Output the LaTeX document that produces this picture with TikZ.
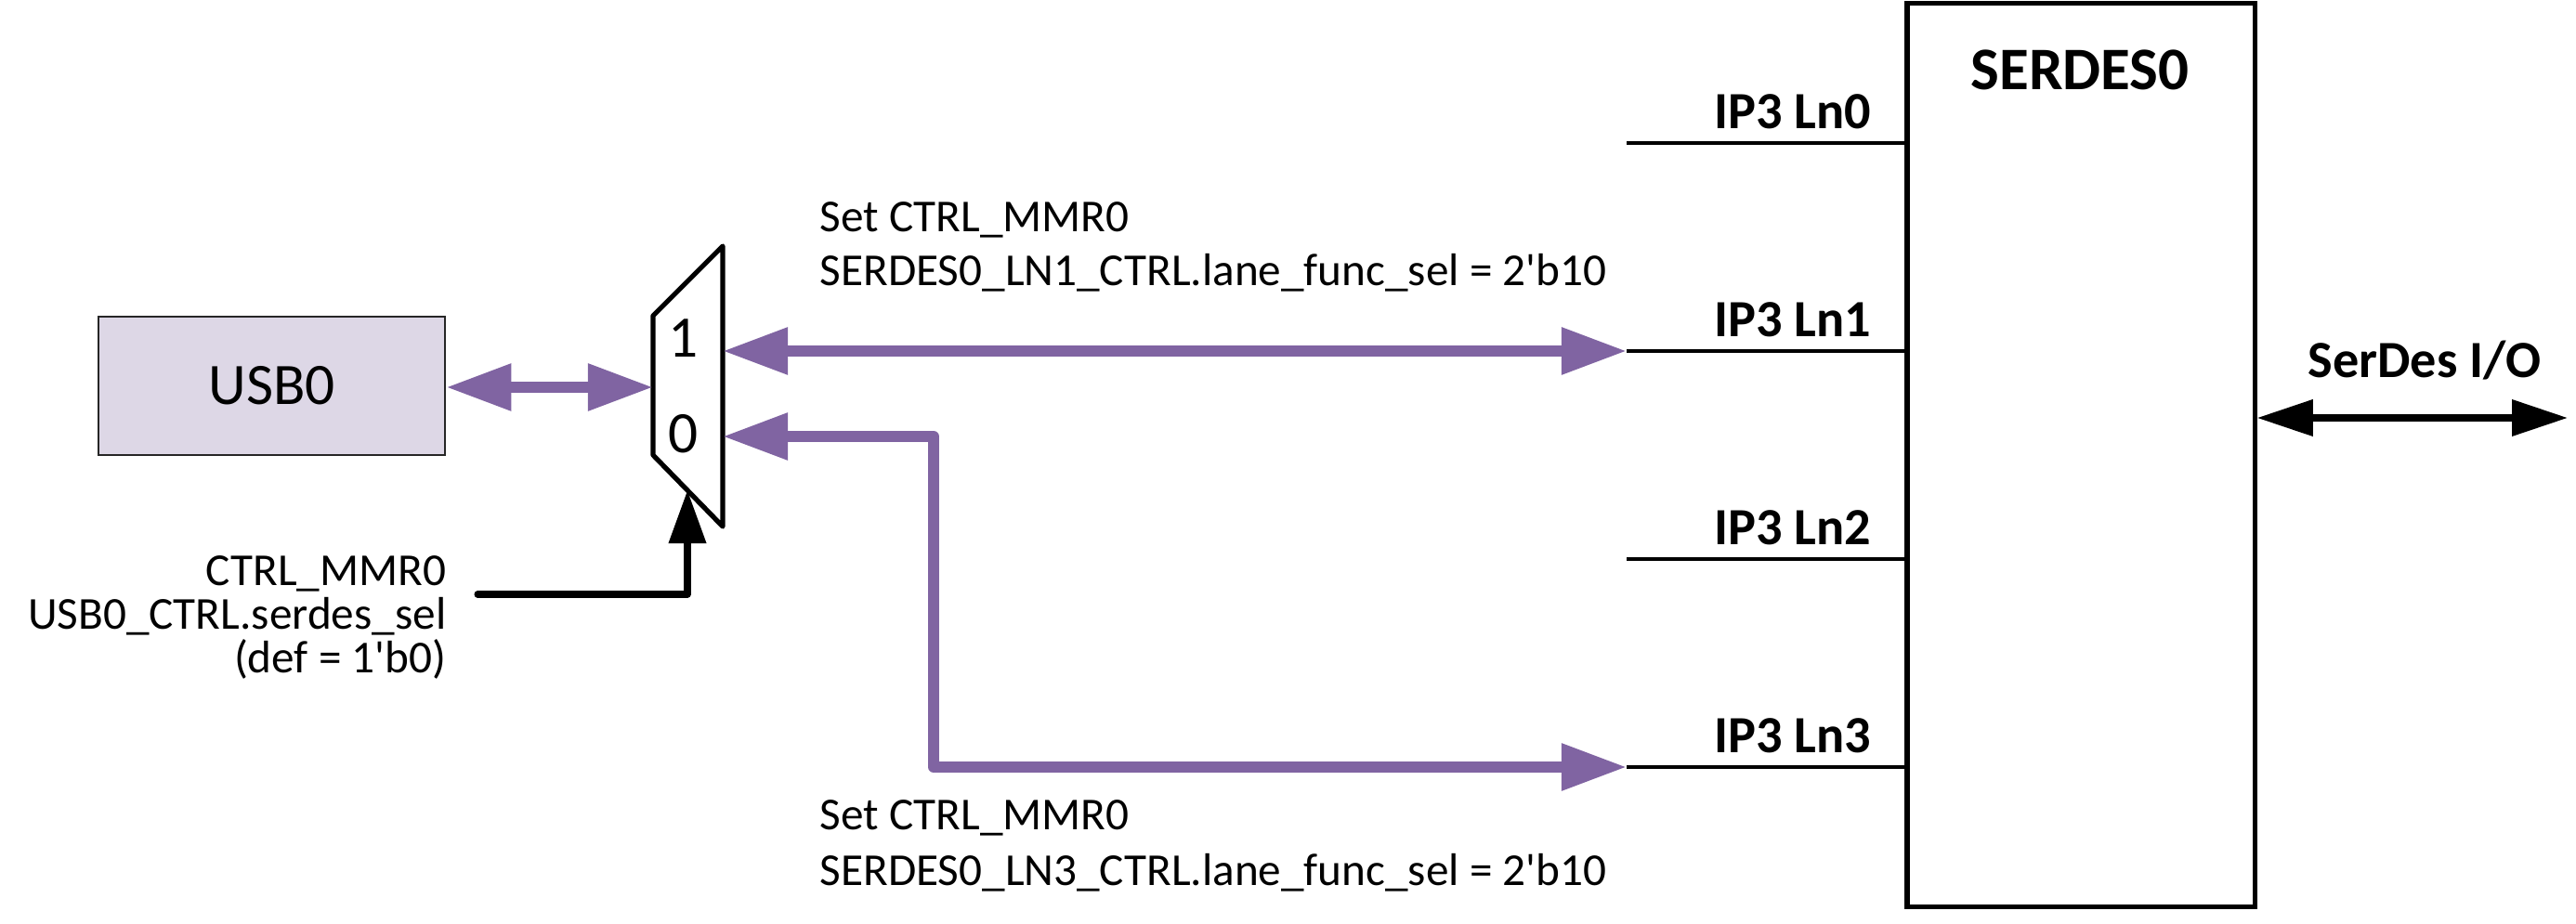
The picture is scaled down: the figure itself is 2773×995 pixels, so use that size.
\documentclass[tikz,border=0pt]{standalone}
\usepackage{fontspec}
\setmainfont{Carlito}
\usetikzlibrary{arrows.meta}
\definecolor{mpurple}{HTML}{8064A2}
\definecolor{usbfill}{HTML}{DDD7E6}
\tikzset{
  purplelink/.style={draw=mpurple, line width=3.4pt, line join=round,
    {Triangle[length=0.7cm,width=0.48cm]}-{Triangle[length=0.7cm,width=0.48cm]}},
  lanewire/.style={draw=black, line width=1.4pt},
  lanelabel/.style={anchor=base east, inner sep=0pt, font=\fontsize{16}{19}\selectfont\bfseries},
  txt/.style={inner sep=0pt, font=\fontsize{14}{16.5}\selectfont},
}
\begin{document}
\begin{tikzpicture}[x=0.01cm, y=-0.01cm]
\useasboundingbox (0,0) rectangle (2773,995);

% USB0 block
\node[draw=black!85, line width=0.7pt, fill=usbfill, minimum width=3.73cm,
      minimum height=1.49cm, inner sep=0pt, font=\fontsize{18}{21}\selectfont]
      (usb) at (292.5,415.5) {USB0};

% Multiplexer
\coordinate (mtl) at (703,340);
\coordinate (mtr) at (778,265);
\coordinate (mbr) at (778,567);
\coordinate (mbl) at (703,490);
\draw[line width=1.5pt, line join=round] (mtl) -- (mtr) -- (mbr) -- (mbl) -- cycle;
\node[inner sep=0pt, anchor=base, font=\fontsize{18}{21}\selectfont] (one) at (736,385) {1};
\node[inner sep=0pt, anchor=base, font=\fontsize{18}{21}\selectfont] (zero) at (736,488) {0};
\coordinate (min) at (703,417);
\coordinate (mux1) at (778,378);
\coordinate (mux0) at (778,470);
\coordinate (msel) at (740,528);

% SERDES0 block
\node[draw=black, line width=1.5pt, minimum width=3.74cm, minimum height=9.72cm,
      inner sep=0pt] (serdes) at (2240,490) {};
\node[inner sep=0pt, anchor=base, font=\fontsize{18.5}{22}\selectfont\bfseries]
      (sdname) at (2239,97) {SERDES0};

% Lanes
\coordinate (ln0) at (1751,154);
\coordinate (ln1) at (1751,378);
\coordinate (ln2) at (1751,602);
\coordinate (ln3) at (1751,826);
\foreach \n in {0,1,2,3} {
  \draw[lanewire] (ln\n) -- (ln\n -| serdes.west);
}
\node[lanelabel] (l0) at (2015,139) {IP3 Ln0};
\node[lanelabel] (l1) at (2015,363) {IP3 Ln1};
\node[lanelabel] (l2) at (2015,587) {IP3 Ln2};
\node[lanelabel] (l3) at (2015,811) {IP3 Ln3};

% SerDes I/O
\coordinate (sdio) at (2764,450);
\draw[line width=2pt, {Triangle[length=0.6cm,width=0.38cm]}-{Triangle[length=0.6cm,width=0.38cm]}]
  (serdes.east |- sdio) -- (sdio);
\node[inner sep=0pt, anchor=base, font=\fontsize{16}{19}\selectfont\bfseries]
  (sdiolbl) at (2610,407) {SerDes I/O};

% Purple links
\draw[purplelink] (usb.east |- min) -- (min);
\draw[purplelink] (mux1) -- (ln1);
\draw[purplelink] (mux0) -- (1005,470) -- (1005,826) -- (ln3);

% Select line
\coordinate (selstart) at (514,640);
\draw[line width=2pt, line cap=round, line join=round, -{Triangle[length=0.57cm,width=0.39cm]}]
  (selstart) -- (selstart -| msel) -- (msel);

% Labels
\node[txt, anchor=base east, align=right, font=\fontsize{14}{13.4}\selectfont] (sellbl) at (481,725)
  {CTRL\_MMR0\\USB0\_CTRL.serdes\_sel\\(def = 1\textquotesingle b0)};
\node[txt, anchor=base west, align=left] (set1) at (882,308)
  {Set CTRL\_MMR0\\SERDES0\_LN1\_CTRL.lane\_func\_sel = 2\textquotesingle b10};
\node[txt, anchor=base west, align=left, font=\fontsize{14}{17}\selectfont] (set3) at (882,953)
  {Set CTRL\_MMR0\\SERDES0\_LN3\_CTRL.lane\_func\_sel = 2\textquotesingle b10};
\end{tikzpicture}
\end{document}
